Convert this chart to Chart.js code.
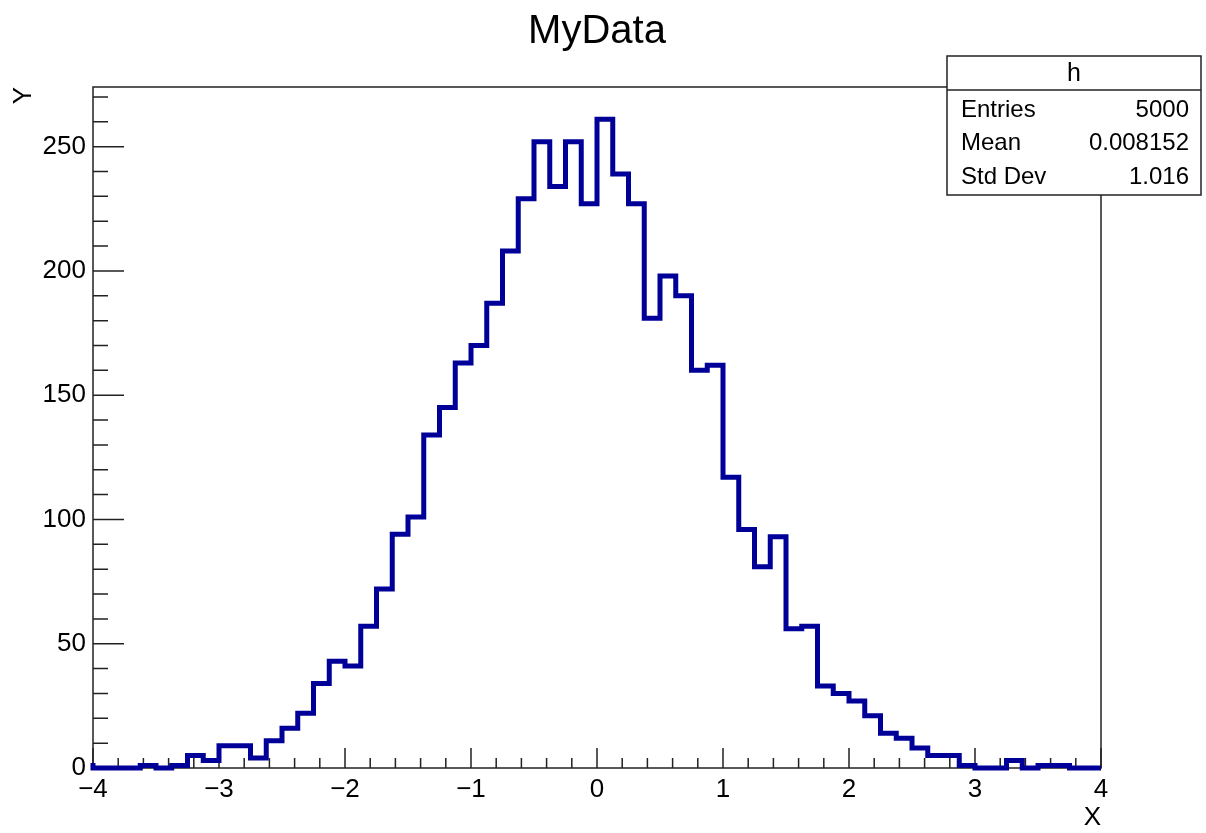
<!DOCTYPE html>
<html>
<head>
<meta charset="utf-8">
<title>MyData</title>
<script src="https://cdn.jsdelivr.net/npm/chart.js@4/dist/chart.umd.min.js"></script>
<style>
  body { margin: 0; background: #fff; }
  #wrap { width: 1206px; height: 833px; }
</style>
</head>
<body>
<div id="wrap"><canvas id="histo" width="1206" height="833"></canvas></div>
<script>
// histogram h : 64 bins from -4 to 4
var xMin = -4;
var xMax = 4;
var binWidth = 0.125;
var binCounts = [2, 0, 0, 0, 1, 0, 1, 5, 3, 9, 9, 4, 11, 16, 22, 34, 43, 41, 57, 72,
                 94, 101, 134, 145, 163, 170, 187, 208, 229, 252, 234, 252, 227, 261, 239, 227, 181, 198, 190, 160,
                 162, 117, 96, 81, 93, 56, 57, 33, 30, 27, 21, 14, 12, 8, 5, 5, 1, 0, 0, 3, 0, 1, 1, 0];
var yMax = 274;
var xTickValues = [-4, -3, -2, -1, 0, 1, 2, 3, 4];
var yTickValues = [0, 50, 100, 150, 200, 250];
var xMinorStep = 0.2;
var yMinorStep = 10;
var statTitle = 'h';
var statNames = ['Entries', 'Mean', 'Std Dev'];
var statValues = ['5000', '0.008152', '1.016'];

var fontFamily = "'Liberation Sans', Arial, Helvetica, sans-serif";

// step points: left edge of each bin, plus the right edge of the last one
var points = [];
for (var i = 0; i < binCounts.length; i++) {
  points.push({x: xMin + i * binWidth, y: binCounts[i]});
}
points.push({x: xMax, y: binCounts[binCounts.length - 1]});

function minus(v) {
  return v < 0 ? '\u2212' + Math.abs(v) : String(v);
}

// frame + inside ticks, root style
var rootFrame = {
  id: 'rootFrame',
  beforeDatasetsDraw: function(chart) {
    var ctx = chart.ctx;
    var a = chart.chartArea;
    var sx = chart.scales.x, sy = chart.scales.y;
    ctx.save();
    ctx.strokeStyle = '#222';
    ctx.lineWidth = 1.5;
    ctx.strokeRect(a.left, a.top, a.right - a.left, a.bottom - a.top);
    ctx.beginPath();
    var n = Math.round(yMax / yMinorStep);
    for (var k = 0; k <= n; k++) {
      var v = k * yMinorStep;
      var py = sy.getPixelForValue(v);
      var len = (v % 50 === 0) ? 31 : 15;
      ctx.moveTo(a.left, py);
      ctx.lineTo(a.left + len, py);
    }
    var m = Math.round((xMax - xMin) / xMinorStep);
    for (var j = 0; j <= m; j++) {
      var px = sx.getPixelForValue(xMin + j * xMinorStep);
      var l = (j % 5 === 0) ? 20 : 10;
      ctx.moveTo(px, a.bottom);
      ctx.lineTo(px, a.bottom - l);
    }
    ctx.stroke();
    ctx.restore();
  },
  afterDraw: function(chart) {
    // stats box
    var ctx = chart.ctx;
    var bx = 947, by = 56, bw = 254, bh = 139;
    ctx.save();
    ctx.fillStyle = '#fff';
    ctx.fillRect(bx, by, bw, bh);
    ctx.strokeStyle = '#222';
    ctx.lineWidth = 1.5;
    ctx.strokeRect(bx, by, bw, bh);
    ctx.beginPath();
    ctx.moveTo(bx, by + 34);
    ctx.lineTo(bx + bw, by + 34);
    ctx.stroke();
    ctx.fillStyle = '#000';
    ctx.textBaseline = 'middle';
    ctx.font = '25px ' + fontFamily;
    ctx.textAlign = 'center';
    ctx.fillText(statTitle, bx + bw / 2, by + 18);
    ctx.font = '24px ' + fontFamily;
    for (var i = 0; i < statNames.length; i++) {
      var ty = by + 54 + i * 33.5;
      ctx.textAlign = 'left';
      ctx.fillText(statNames[i], bx + 14, ty);
      ctx.textAlign = 'right';
      ctx.fillText(statValues[i], bx + bw - 12, ty);
    }
    ctx.restore();
  }
};

var chart = new Chart(document.getElementById('histo'), {
  type: 'line',
  data: {
    datasets: [{
      label: 'h',
      data: points,
      stepped: 'after',
      borderColor: '#000099',
      borderWidth: 5,
      borderJoinStyle: 'miter',
      borderCapStyle: 'butt',
      pointRadius: 0,
      fill: false,
      clip: 4
    }]
  },
  options: {
    responsive: false,
    animation: false,
    devicePixelRatio: 1,
    layout: {padding: {left: 0, right: 105, top: 0, bottom: 0}},
    plugins: {
      legend: {display: false},
      tooltip: {enabled: false},
      title: {
        display: true,
        fullSize: false,
        text: 'MyData',
        color: '#000',
        font: {family: fontFamily, size: 40, weight: 'normal'},
        padding: {top: 8, bottom: 31}
      }
    },
    scales: {
      x: {
        type: 'linear',
        min: xMin,
        max: xMax,
        afterBuildTicks: function(s) {
          s.ticks = xTickValues.map(function(v) { return {value: v}; });
        },
        afterFit: function(s) { s.height = 65; },
        grid: {display: false, drawTicks: false},
        border: {display: false},
        ticks: {
          color: '#000',
          font: {family: fontFamily, size: 26},
          padding: 6,
          maxRotation: 0,
          autoSkip: false,
          callback: function(v) { return minus(v); }
        },
        title: {
          display: true,
          text: 'X',
          align: 'end',
          color: '#000',
          font: {family: fontFamily, size: 26},
          padding: {top: 0, bottom: 0}
        }
      },
      y: {
        type: 'linear',
        min: 0,
        max: yMax,
        afterBuildTicks: function(s) {
          s.ticks = yTickValues.map(function(v) { return {value: v}; });
        },
        afterFit: function(s) { s.width = 93; },
        grid: {display: false, drawTicks: false},
        border: {display: false},
        ticks: {
          color: '#000',
          font: {family: fontFamily, size: 26},
          padding: 7
        },
        title: {
          display: true,
          text: 'Y',
          align: 'end',
          color: '#000',
          font: {family: fontFamily, size: 26},
          padding: {top: 8, bottom: 0}
        }
      }
    }
  },
  plugins: [rootFrame]
});
</script>
</body>
</html>
